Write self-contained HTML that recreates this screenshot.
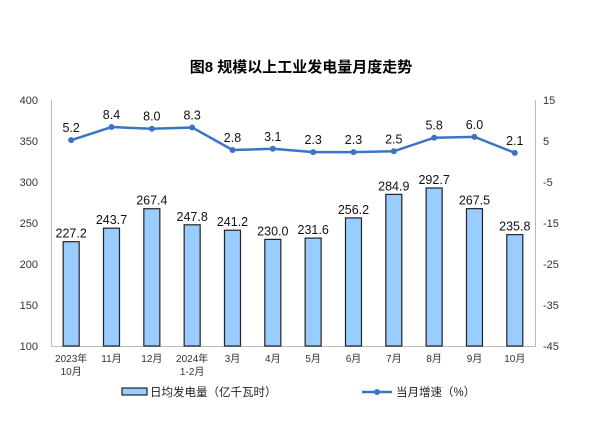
<!DOCTYPE html>
<html><head><meta charset="utf-8"><style>
body{margin:0;background:#fff;}
svg text{font-family:"Liberation Sans","Noto Sans CJK SC",sans-serif;}
</style></head><body>
<svg width="602" height="426" xmlns="http://www.w3.org/2000/svg">
<text x="301" y="72" font-size="15" font-weight="bold" text-anchor="middle" fill="#000">图8  规模以上工业发电量月度走势</text>
<g stroke="#bbb" stroke-width="1" fill="none">
<line x1="51.5" y1="100" x2="51.5" y2="346.5"/>
<line x1="535.5" y1="100" x2="535.5" y2="346.5"/>
<line x1="51" y1="346.5" x2="536" y2="346.5"/>
</g>
<g font-size="11" fill="#333" text-anchor="end">
<text x="38" y="104">400</text><text x="38" y="145">350</text><text x="38" y="186">300</text>
<text x="38" y="227">250</text><text x="38" y="268">200</text><text x="38" y="309">150</text><text x="38" y="350">100</text>
</g>
<g font-size="11" fill="#333" font-family="Liberation Serif">
<text x="543" y="104">15</text><text x="543" y="145">5</text><text x="543" y="186">-5</text>
<text x="543" y="227">-15</text><text x="543" y="268">-25</text><text x="543" y="309">-35</text><text x="543" y="350">-45</text>
</g>
<g id="bars" fill="#99ccff" stroke="#222" stroke-width="1.2"></g>
<g id="blabels" font-size="12.5" fill="#111" text-anchor="middle"></g>
<polyline id="ln" fill="none" stroke="#3a75c4" stroke-width="2.5"/>
<g id="dots" fill="#3a75c4"></g>
<g id="llabels" font-size="12.5" fill="#111" text-anchor="middle"></g>
<g id="xl" font-size="10" fill="#333" text-anchor="middle"></g>
<rect x="122" y="388" width="25" height="7" fill="#99ccff" stroke="#222" stroke-width="1.2"/>
<text x="150" y="396" font-size="11.5" fill="#222">日均发电量（亿千瓦时）</text>
<line x1="362" y1="392" x2="392" y2="392" stroke="#3a75c4" stroke-width="2.5"/>
<circle cx="377" cy="392" r="3" fill="#3a75c4"/>
<text x="396" y="396" font-size="11.5" fill="#222">当月增速（%）</text>
</svg>
<script>
var b=[227.2,243.7,267.4,247.8,241.2,230.0,231.6,256.2,284.9,292.7,267.5,235.8];
var l=[5.2,8.4,8.0,8.3,2.8,3.1,2.3,2.3,2.5,5.8,6.0,2.1];
var xs=["2023年|10月","11月","12月","2024年|1-2月","3月","4月","5月","6月","7月","8月","9月","10月"];
var ns="http://www.w3.org/2000/svg";
function el(p,t,a,txt){var e=document.createElementNS(ns,t);for(var k in a)e.setAttribute(k,a[k]);if(txt!=null)e.textContent=txt;document.getElementById(p).appendChild(e);}
var pts=[];
for(var i=0;i<12;i++){
 var cx=51+20.17+40.33*i;
 var y=346-(b[i]-100)*0.82;
 el("bars","rect",{x:cx-8,y:y,width:16,height:346-y});
 el("blabels","text",{x:cx,y:y-4},b[i].toFixed(1));
 var ly=100+(15-l[i])*4.1;
 pts.push(cx+","+ly);
 el("dots","circle",{cx:cx,cy:ly,r:3});
 el("llabels","text",{x:cx,y:ly-8},l[i].toFixed(1));
 var p=xs[i].split("|");
 el("xl","text",{x:cx,y:362},p[0]);
 if(p[1])el("xl","text",{x:cx,y:375},p[1]);
}
document.getElementById("ln").setAttribute("points",pts.join(" "));
</script>
</body></html>
